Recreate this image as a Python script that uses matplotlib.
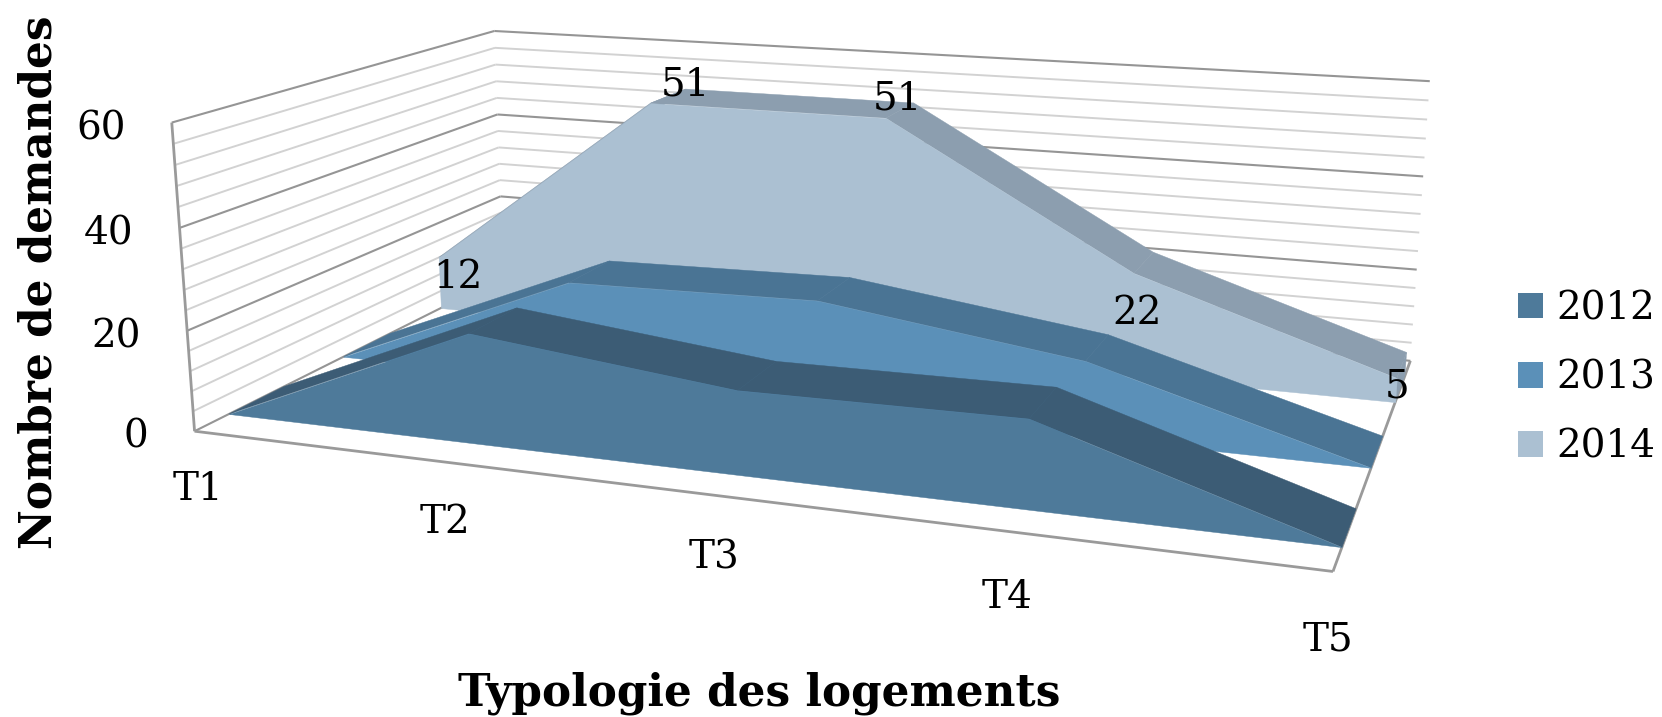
import numpy as np
import matplotlib
matplotlib.use('Agg')
import matplotlib.pyplot as plt
from matplotlib.patches import Patch
from mpl_toolkits.mplot3d import proj3d
from mpl_toolkits.mplot3d.art3d import Poly3DCollection, Line3DCollection

categories = ['T1', 'T2', 'T3', 'T4', 'T5']
years = ['2012', '2013', '2014']
values_2012 = [0, 21.5, 16, 16.5, 0]
values_2013 = [0, 21, 22, 15, 0]
values_2014 = [12, 51, 51, 22, 5]
z_ticks = [0, 20, 40, 60]
grid_levels = list(range(0, 61, 4))

front_colors = ['#4e7a9a', '#5b90b8', '#abc0d2']
strip_colors = ['#3c5c75', '#4a7494', '#8c9eaf']

# the chart is an old 3D area chart, its camera is not reachable with elev/azim
# so fit one from the frame corners: (x, depth, z) -> (pixel x, pixel y)
frame_world = [(0, 0, 0), (4, 0, 0), (4, 3, 0), (0, 3, 0),
               (0, 0, 20), (0, 0, 40), (0, 0, 60),
               (0, 3, 20), (0, 3, 40), (0, 3, 60),
               (4, 3, 20), (4, 3, 40), (4, 3, 60)]
frame_px = [(193, 431), (1333, 572), (1410, 360), (504, 278),
            (188, 330), (181, 228), (171, 123),
            (500.5, 196), (497, 114), (494, 31),
            (1417, 270), (1423, 176), (1430, 81.6)]


def fit_camera(world, px):
    rows = []
    for (x, y, z), (u, v) in zip(world, px):
        x, y, z, u, v = x / 4, y / 3, z / 60, u / 1000, v / 1000
        rows.append([x, y, z, 1, 0, 0, 0, 0, -u * x, -u * y, -u * z, -u])
        rows.append([0, 0, 0, 0, x, y, z, 1, -v * x, -v * y, -v * z, -v])
    p = np.linalg.svd(np.array(rows))[2][-1].reshape(3, 4)
    p = np.diag([1000, 1000, 1]) @ p @ np.diag([1 / 4, 1 / 3, 1 / 60, 1])
    return np.vstack([p[0], p[1], [0, 1, 0, 0], p[2]])


plt.rcParams['font.family'] = 'DejaVu Serif'
fig = plt.figure(figsize=(16.62, 7.17), dpi=100)
ax = fig.add_axes([0, 0, 1, 1], projection='3d', computed_zorder=False)
ax.set_axis_off()
ax.set_xticks([])
ax.set_yticks([])
ax.set_zticks([])
camera = fit_camera(frame_world, frame_px)
ax.get_proj = lambda: camera
ax.apply_aspect = lambda position=None: None

fs = 28


def label(x, y, z, s, dx=0, dy=0, ha='center'):
    # 3D text keeps no usable 2D position, so project it here
    u, v, _ = proj3d.proj_transform(x, y, z, camera)
    return ax.text2D(u + dx, v + dy, s, transform=ax.transData, ha=ha, va='center',
                     fontsize=fs, zorder=30)


# walls
minor_segs = []
major_segs = []
for level in grid_levels:
    for seg in [[(0, 0, level), (0, 3, level)], [(0, 3, level), (4, 3, level)]]:
        if level in z_ticks:
            major_segs.append(seg)
        else:
            minor_segs.append(seg)
ax.add_collection3d(Line3DCollection(minor_segs, colors='#d2d2d2', linewidths=1.4, zorder=1))
ax.add_collection3d(Line3DCollection(major_segs, colors='#959595', linewidths=1.5, zorder=2))
frame_segs = [[(0, 0, 0), (0, 0, 60)], [(0, 0, 0), (4, 0, 0)], [(4, 0, 0), (4, 3, 0)]]
ax.add_collection3d(Line3DCollection(frame_segs, colors='#9a9a9a', linewidths=2, zorder=3))

# back series first, each one covers the one behind it
all_values = [values_2012, values_2013, values_2014]
gap = 0.27
x = np.arange(len(categories))
for s in [2, 1, 0]:
    vals = all_values[s]
    y_f = s + gap
    y_b = s + 1 - gap
    base = 10 + (2 - s) * 3
    strips = []
    for i in range(len(vals) - 1):
        strips.append([(x[i], y_f, vals[i]), (x[i + 1], y_f, vals[i + 1]),
                       (x[i + 1], y_b, vals[i + 1]), (x[i], y_b, vals[i])])
    strips.append([(x[-1], y_f, 0), (x[-1], y_b, 0), (x[-1], y_b, vals[-1]), (x[-1], y_f, vals[-1])])
    ax.add_collection3d(Poly3DCollection(strips, facecolors=strip_colors[s], edgecolors=strip_colors[s],
                                         linewidths=0.3, zorder=base))
    front = [(x[i], y_f, vals[i]) for i in range(len(vals))] + [(x[-1], y_f, 0), (x[0], y_f, 0)]
    ax.add_collection3d(Poly3DCollection([front], facecolors=front_colors[s], edgecolors=front_colors[s],
                                         linewidths=0.3, zorder=base + 1))

ax.viewLim.intervalx = (0, 1662)
ax.viewLim.intervaly = (717, 0)

for level in z_ticks:
    label(0, 0, level, str(level), dx=-46, dy=6, ha='right')
for i, name in enumerate(categories):
    label(i, 0, -11.3, name, dx=-1, dy=3)

# data labels of the last series, they do not sit on the top edge in the original
label_shift = [-6.7, 3, 3, -10.5, -4.5]
label_dx = [-2, 17, -3, -5, -3]
label_dy = [2, 2, 3, 3, 1]
for i, v in enumerate(values_2014):
    label(i, 2.5, v + label_shift[i], str(v), dx=label_dx[i], dy=label_dy[i])

fig.text(759 / 1662, 1 - 693 / 717, 'Typologie des logements', ha='center', va='center',
         fontsize=31.5, fontweight='bold')
fig.text(39 / 1662, 1 - 282 / 717, 'Nombre de demandes', ha='center', va='center',
         rotation=90, fontsize=31.5, fontweight='bold')

handles = [Patch(facecolor=c, edgecolor='none') for c in front_colors]
fig.legend(handles, years, loc='center left', bbox_to_anchor=(1518 / 1662, 1 - 378 / 717), frameon=False,
           fontsize=fs, handlelength=0.64, handleheight=0.63, handletextpad=0.35,
           labelspacing=0.83, borderaxespad=0, borderpad=0)

fig.savefig('out.png', dpi=100)
